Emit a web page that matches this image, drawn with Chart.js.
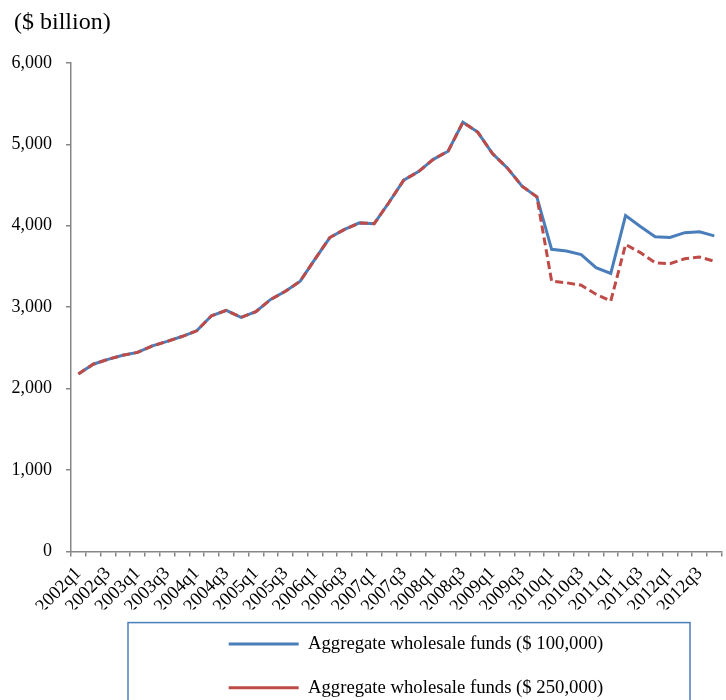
<!DOCTYPE html>
<html>
<head>
<meta charset="utf-8">
<script src="https://cdn.jsdelivr.net/npm/chart.js@4"></script>
<style>
  body { margin: 0; background: #fff; }
  #wrap { width: 726px; height: 700px; overflow: hidden; position: relative; }
  canvas { display: block; }
</style>
</head>
<body>
<div id="wrap"><canvas id="c" width="736" height="707"></canvas></div>
<script>
const quarters = [
  '2002q1','2002q2','2002q3','2002q4','2003q1','2003q2','2003q3','2003q4',
  '2004q1','2004q2','2004q3','2004q4','2005q1','2005q2','2005q3','2005q4',
  '2006q1','2006q2','2006q3','2006q4','2007q1','2007q2','2007q3','2007q4',
  '2008q1','2008q2','2008q3','2008q4','2009q1','2009q2','2009q3','2009q4',
  '2010q1','2010q2','2010q3','2010q4','2011q1','2011q2','2011q3','2011q4',
  '2012q1','2012q2','2012q3','2012q4'
];
// $ billion
const funds100k = [
  2180, 2300, 2360, 2410, 2445, 2525, 2580, 2640,
  2710, 2895, 2960, 2875, 2945, 3095, 3195, 3320,
  3590, 3855, 3955, 4035, 4025, 4285, 4560, 4665,
  4815, 4915, 5270, 5150, 4885, 4710, 4485, 4355,
  3710, 3690, 3645, 3485, 3415, 4125, 3990, 3865,
  3855, 3915, 3925, 3875
];
const funds250k = [
  2180, 2300, 2360, 2410, 2445, 2525, 2580, 2640,
  2710, 2895, 2960, 2875, 2945, 3095, 3195, 3320,
  3590, 3855, 3955, 4035, 4025, 4285, 4560, 4665,
  4815, 4915, 5270, 5150, 4885, 4710, 4485, 4355,
  3320, 3300, 3270, 3160, 3075, 3770, 3670, 3545,
  3535, 3595, 3615, 3565
];
const yTicks = [0, 1000, 2000, 3000, 4000, 5000, 6000];

const serif = 'Liberation Serif, "Times New Roman", serif';
const axisGrey = '#868686';

// title a bit in from the edge, legend under the plot with its frame
const placeBoxes = {
  id: 'placeBoxes',
  afterLayout(chart) {
    chart.titleBlock.left = 14;
    const lg = chart.legend;
    lg.left = 128;
    lg.right = 704;
  },
  afterDraw(chart) {
    const lg = chart.legend;
    const ctx = chart.ctx;
    ctx.save();
    ctx.strokeStyle = '#4A7EBB';
    ctx.lineWidth = 1.5;
    ctx.strokeRect(lg.left, lg.top + 13, 562, 200);
    ctx.restore();
  }
};

new Chart(document.getElementById('c'), {
  type: 'line',
  data: {
    labels: quarters,
    datasets: [{
      label: 'Aggregate wholesale funds ($ 100,000)',
      data: funds100k,
      borderColor: '#4A7EBB',
      backgroundColor: '#4A7EBB',
      borderWidth: 3,
      pointRadius: 0,
      tension: 0,
      order: 1
    }, {
      label: 'Aggregate wholesale funds ($ 250,000)',
      data: funds250k,
      borderColor: '#BE4B48',
      backgroundColor: '#BE4B48',
      borderWidth: 3,
      borderDash: [8, 4],
      pointRadius: 0,
      tension: 0,
      order: 0
    }]
  },
  options: {
    responsive: false,
    animation: false,
    layout: { padding: 0 },
    plugins: {
      tooltip: { enabled: false },
      title: {
        display: true,
        text: '($ billion)',
        align: 'start',
        color: '#000',
        font: { family: serif, size: 24, weight: 'normal' },
        padding: { top: 8, bottom: 26 }
      },
      legend: {
        position: 'bottom',
        labels: {
          usePointStyle: true,
          pointStyle: 'line',
          pointStyleWidth: 70,
          boxHeight: 18,
          padding: 25,
          color: '#000',
          font: { family: serif, size: 18.7 },
          sort: (a, b) => a.datasetIndex - b.datasetIndex
        }
      }
    },
    scales: {
      x: {
        offset: true,
        grid: { offset: true, drawOnChartArea: false, tickLength: 5, color: axisGrey, lineWidth: 1.5 },
        border: { color: axisGrey, width: 1.5 },
        ticks: {
          autoSkip: false,
          minRotation: 45,
          maxRotation: 45,
          padding: 6,
          color: '#000',
          font: { family: serif, size: 18.5 },
          callback: function (val, i) { return i % 2 === 0 ? this.getLabelForValue(val) : ''; }
        },
        afterFit: s => { s.height = 58; }
      },
      y: {
        min: 0,
        max: 6000,
        afterBuildTicks: s => { s.ticks = yTicks.map(v => ({ value: v })); },
        grid: { drawOnChartArea: false, tickLength: 5, color: axisGrey, lineWidth: 1.5 },
        border: { color: axisGrey, width: 1.5 },
        ticks: {
          padding: 14,
          color: '#000',
          font: { family: serif, size: 18 },
          callback: v => v.toLocaleString('en-US')
        },
        afterFit: s => { s.width = 71; }
      }
    }
  },
  plugins: [placeBoxes]
});
</script>
</body>
</html>
